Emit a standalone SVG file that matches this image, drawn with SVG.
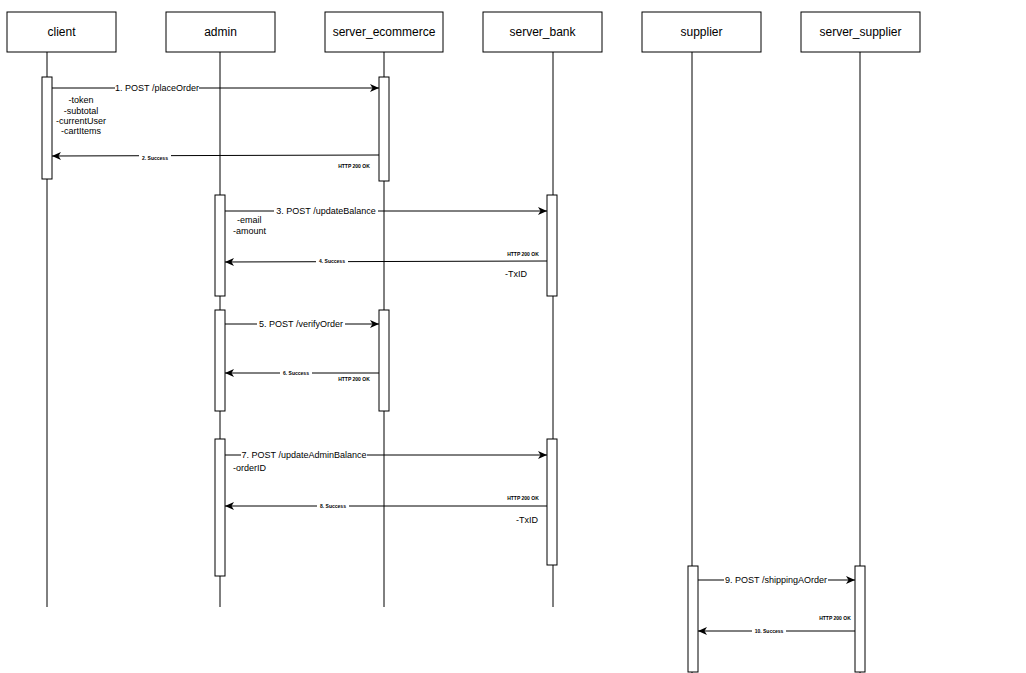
<svg xmlns="http://www.w3.org/2000/svg" width="1026" height="673" viewBox="0 0 1026 673">
<style>
.box{fill:#fff;stroke:#000;stroke-width:1}
.life{stroke:#000;stroke-width:1;fill:none}
.act{fill:#fff;stroke:#000;stroke-width:1}
.msg{stroke:#000;stroke-width:1;fill:none;marker-end:url(#arr)}
.t{font-family:"Liberation Sans",Arial,sans-serif;fill:#000}
.name{font-size:12px;text-anchor:middle}
.lbl{font-size:9px;text-anchor:middle}
.sm{font-size:5px;font-weight:bold;text-anchor:middle}
.note{font-size:9px}
.bg{fill:#fff}
</style>
<defs>
<marker id="arr" markerWidth="10" markerHeight="10" refX="9" refY="5" orient="auto" markerUnits="userSpaceOnUse">
<path d="M0,1 L9,5 L0,9 L2.5,5 z" fill="#000"/>
</marker>
</defs>
<rect width="1026" height="673" fill="#fff"/>
<g id="lifelines">
<line class="life" x1="47" y1="52" x2="47" y2="607"/>
<line class="life" x1="220" y1="52" x2="220" y2="607"/>
<line class="life" x1="384" y1="52" x2="384" y2="607"/>
<line class="life" x1="553" y1="52" x2="553" y2="607"/>
<line class="life" x1="692" y1="52" x2="692" y2="673"/>
<line class="life" x1="860" y1="52" x2="860" y2="673"/>
</g>
<g id="client"><rect class="box" x="7" y="12" width="109" height="40"/><text class="t name" x="61.5" y="36">client</text></g>
<g id="admin"><rect class="box" x="166" y="12" width="109" height="40"/><text class="t name" x="220.5" y="36">admin</text></g>
<g id="server_ecommerce"><rect class="box" x="325" y="12" width="118" height="40"/><text class="t name" x="384" y="36">server_ecommerce</text></g>
<g id="server_bank"><rect class="box" x="483" y="12" width="119" height="40"/><text class="t name" x="542.5" y="36">server_bank</text></g>
<g id="supplier"><rect class="box" x="642" y="12" width="119" height="40"/><text class="t name" x="701.5" y="36">supplier</text></g>
<g id="server_supplier"><rect class="box" x="801" y="12" width="119" height="40"/><text class="t name" x="860.5" y="36">server_supplier</text></g>
<g id="activations">
<rect class="act" x="42" y="77" width="10" height="102"/>
<rect class="act" x="379" y="77" width="10" height="104"/>
<rect class="act" x="215" y="195" width="10" height="101"/>
<rect class="act" x="547" y="195" width="10" height="101"/>
<rect class="act" x="215" y="310" width="10" height="101"/>
<rect class="act" x="379" y="310" width="10" height="101"/>
<rect class="act" x="215" y="439" width="10" height="137"/>
<rect class="act" x="547" y="439" width="10" height="126"/>
<rect class="act" x="688" y="566" width="10" height="106"/>
<rect class="act" x="855" y="566" width="10" height="106"/>
</g>
<g id="connectors">
<line class="msg" x1="52" y1="88" x2="379" y2="88"/>
<rect class="bg" x="115" y="83" width="84" height="10"/>
<text class="t lbl" x="157" y="91">1. POST /placeOrder</text>
<line class="msg" x1="379" y1="155" x2="52" y2="156"/>
<rect class="bg" x="139" y="155" width="32" height="5"/>
<text class="t sm" x="155" y="160">2. Success</text>
<line class="msg" x1="225" y1="211" x2="547" y2="211"/>
<rect class="bg" x="274" y="206" width="104" height="10"/>
<text class="t lbl" x="326" y="214">3. POST /updateBalance</text>
<line class="msg" x1="547" y1="261" x2="225" y2="262"/>
<rect class="bg" x="316" y="259" width="32" height="5"/>
<text class="t sm" x="332" y="263">4. Success</text>
<line class="msg" x1="225" y1="324" x2="379" y2="324"/>
<rect class="bg" x="257" y="319" width="88" height="10"/>
<text class="t lbl" x="301" y="327">5. POST /verifyOrder</text>
<line class="msg" x1="379" y1="373" x2="225" y2="373"/>
<rect class="bg" x="280" y="371" width="32" height="5"/>
<text class="t sm" x="296" y="375">6. Success</text>
<line class="msg" x1="225" y1="455" x2="547" y2="455"/>
<rect class="bg" x="241" y="450" width="126" height="10"/>
<text class="t lbl" x="304" y="458">7. POST /updateAdminBalance</text>
<line class="msg" x1="547" y1="506" x2="225" y2="506"/>
<rect class="bg" x="317" y="504" width="32" height="5"/>
<text class="t sm" x="333" y="508">8. Success</text>
<line class="msg" x1="698" y1="580" x2="855" y2="580"/>
<rect class="bg" x="724" y="575" width="104" height="10"/>
<text class="t lbl" x="776" y="583">9. POST /shippingAOrder</text>
<line class="msg" x1="855" y1="631" x2="698" y2="631"/>
<rect class="bg" x="752" y="629" width="34" height="5"/>
<text class="t sm" x="769" y="633">10. Success</text>
</g>
<g id="notes">
<text class="t note" text-anchor="middle" x="81" y="103">-token</text>
<text class="t note" text-anchor="middle" x="81" y="114">-subtotal</text>
<text class="t note" text-anchor="middle" x="81" y="124">-currentUser</text>
<text class="t note" text-anchor="middle" x="81" y="134">-cartItems</text>
<text class="t sm" x="354" y="168">HTTP 200 OK</text>
<text class="t note" x="237" y="223">-email</text>
<text class="t note" x="233" y="234">-amount</text>
<text class="t sm" x="523" y="256">HTTP 200 OK</text>
<text class="t note" x="505" y="277">-TxID</text>
<text class="t sm" x="354" y="381">HTTP 200 OK</text>
<text class="t note" x="233" y="471">-orderID</text>
<text class="t sm" x="523" y="500">HTTP 200 OK</text>
<text class="t note" x="516" y="523">-TxID</text>
<text class="t sm" x="835" y="620">HTTP 200 OK</text>
</g>
</svg>
